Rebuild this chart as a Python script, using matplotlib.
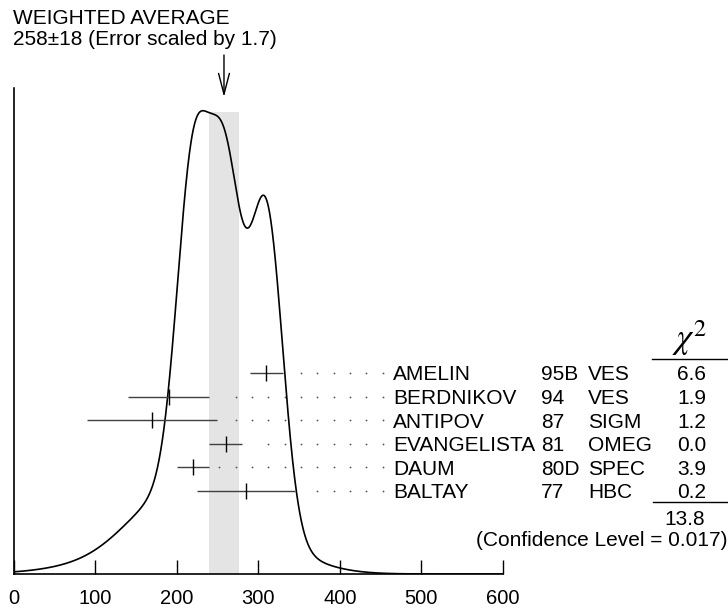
"""
Ideogram of measurements with weighted average
"""

import numpy as np
import matplotlib
matplotlib.use('Agg')
import matplotlib.pyplot as plt
from matplotlib.lines import Line2D

plt.rcParams['font.family'] = ['Liberation Sans', 'DejaVu Sans']
plt.rcParams['mathtext.fontset'] = 'stix'

names = ['AMELIN', 'BERDNIKOV', 'ANTIPOV', 'EVANGELISTA', 'DAUM', 'BALTAY']
years = ['95B', '94', '87', '81', '80D', '77']
exps = ['VES', 'VES', 'SIGM', 'OMEG', 'SPEC', 'HBC']
values = [310, 190, 170, 260, 220, 285]
errors = [20, 50, 80, 20, 20, 60]
chi2 = ['6.6', '1.9', '1.2', '0.0', '3.9', '0.2']
dot_start = [352.5, 272.5, 272.5, 312.5, 252.5, 372.5]
avg, avg_err = 258, 18
chi2_total = '13.8'
conf_level = '0.017'

W, H = 728, 609
FS = 15


def fx(px):
    return px / W


def fy(py):
    return 1 - py / H


fig = plt.figure(figsize=(W / 100, H / 100), dpi=100)
base_px, top_px = 574, 88
ax = fig.add_axes([fx(13.5), fy(base_px), (503 - 13.5) / W, (base_px - top_px) / H])
ax.set_xlim(0, 600)
ax.set_ylim(0, 1)


def ay(py):
    return (base_px - py) / (base_px - top_px)


# ideogram: gaussians with area proportional to 1/error
xs = np.linspace(0, 600, 1201)
curve = np.zeros_like(xs)
for v, e in zip(values, errors):
    curve += np.exp(-0.5 * ((xs - v) / e) ** 2) / e ** 2
curve = curve / curve.max() * ay(110.7)

ax.axvspan(avg - avg_err, avg + avg_err, ymin=0, ymax=ay(112), color='#e4e4e4', lw=0, zorder=0)
ax.plot(xs, curve, color='black', lw=1.2, zorder=3)

row0, step = 373.0, 23.6
for i in range(len(names)):
    yc = row0 + i * step
    y = ay(yc)
    ax.errorbar(values[i], y, xerr=errors[i], fmt='|', ms=12, mew=1.0, color='black',
                ecolor='#404040', elinewidth=1.0, capsize=0, zorder=4)
    dx = np.arange(dot_start[i], 453, 20)
    ax.plot(dx, np.full_like(dx, y), ls='none', marker='o', ms=1.3, mew=0, color='#555555')
    bl = fy(yc + 7.3)
    fig.text(fx(393.3), bl, names[i], fontsize=FS, va='baseline')
    fig.text(fx(541), bl, years[i], fontsize=FS, va='baseline')
    fig.text(fx(588.3), bl, exps[i], fontsize=FS, va='baseline')
    fig.text(fx(706), bl, chi2[i], fontsize=FS, va='baseline', ha='right')

# chi2 header and sums
fig.text(fx(690), fy(349), r'$\chi^2$', fontsize=25, ha='center', va='baseline')
fig.add_artist(Line2D([fx(652), fx(728)], [fy(359), fy(359)], color='black', lw=1))
fig.add_artist(Line2D([fx(653), fx(728)], [fy(502.3), fy(502.3)], color='black', lw=1))
fig.text(fx(705), fy(525), chi2_total, fontsize=FS, ha='right', va='baseline')
fig.text(fx(727.5), fy(546), '(Confidence Level = ' + conf_level + ')', fontsize=FS,
         ha='right', va='baseline')

# weighted average label and arrow
fig.text(fx(12.5), fy(24), 'WEIGHTED AVERAGE', fontsize=FS, va='baseline')
fig.text(fx(12.5), fy(45), '%d\u00b1%d (Error scaled by 1.7)' % (avg, avg_err), fontsize=FS,
         va='baseline')
ax.annotate('', xy=(avg, ay(97)), xytext=(avg, ay(55)), annotation_clip=False,
            arrowprops=dict(arrowstyle='->,head_length=0.5,head_width=0.13', lw=1,
                            color='black', mutation_scale=30, shrinkA=0, shrinkB=0))

for s in ['top', 'right']:
    ax.spines[s].set_visible(False)
ax.spines['left'].set_linewidth(1.2)
ax.spines['bottom'].set_linewidth(1.2)
ax.set_yticks([])
ax.set_xticks([0, 100, 200, 300, 400, 500, 600])
ax.tick_params(axis='x', direction='in', length=10, width=1, pad=11, labelsize=14.5)

plt.savefig('out.png', dpi=100)
